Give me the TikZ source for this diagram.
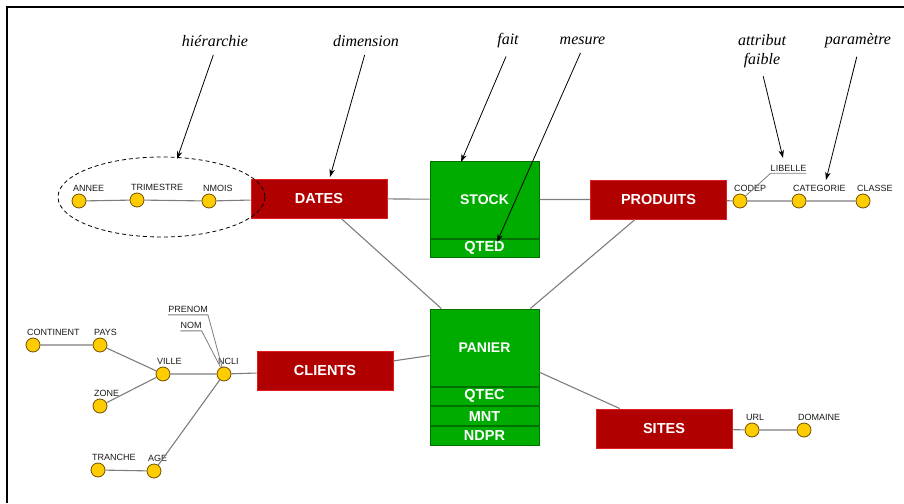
\documentclass[tikz,border=0pt]{standalone}
\usepackage{fontspec}
\setmainfont{Liberation Serif}
\setsansfont{Liberation Sans}
\usepackage{tikz}
\usetikzlibrary{arrows.meta,positioning}
\definecolor{dimred}{RGB}{176,0,0}
\definecolor{dimedge}{RGB}{226,28,28}
\definecolor{factgreen}{RGB}{0,172,0}
\definecolor{factedge}{RGB}{0,112,0}
\definecolor{attrfill}{RGB}{255,204,0}
\definecolor{attredge}{RGB}{110,80,0}
\definecolor{linkgray}{RGB}{125,125,125}
\definecolor{lblgray}{RGB}{25,25,25}

\begin{document}
\begin{tikzpicture}[x=1pt,y=-1pt,
    dim/.style={draw=dimedge,fill=dimred,line width=1pt,minimum width=136pt,minimum height=39pt,
      inner sep=0pt,text=white,font=\sffamily\bfseries\fontsize{14.5}{16}\selectfont},
    fact/.style={draw=factedge,fill=factgreen,line width=1pt,minimum width=109pt,minimum height=77pt,
      inner sep=0pt,text=white,font=\sffamily\bfseries\fontsize{14}{16}\selectfont},
    meas/.style={fact,minimum height=18.7pt,font=\sffamily\bfseries\fontsize{14.5}{16}\selectfont},
    attr/.style={circle,draw=attredge,fill=attrfill,line width=0.8pt,minimum size=14pt,inner sep=0pt},
    lbl/.style={font=\sffamily\fontsize{9}{10}\selectfont,text=lblgray,inner sep=0pt,
      anchor=south west,xshift=-6pt,yshift=2pt},
    weak/.style={font=\sffamily\fontsize{9}{10}\selectfont,text=lblgray,inner xsep=0pt,inner ysep=2pt},
    link/.style={draw=linkgray,line width=1.1pt},
    note/.style={font=\itshape\fontsize{16}{19}\selectfont,align=center},
    pointer/.style={-{Stealth[length=8pt,width=5.5pt]},line width=0.8pt,shorten <=5pt}]
    \useasboundingbox (0,0) rectangle (904,503);
    % cadre
    \draw[line width=1.5pt] (7,503) -- (7,7) -- (904,7);
    % faits et mesures
    \node[fact] (stock) at (484.5,199.5) {STOCK};
    \node[meas,below=0pt of stock] (qted) {QTED};
    \node[fact] (panier) at (484.5,347.5) {PANIER};
    \node[meas,below=0pt of panier] (qtec) {QTEC};
    \node[meas,below=0pt of qtec] (mnt) {MNT};
    \node[meas,below=0pt of mnt] (ndpr) {NDPR};
    % dimensions
    \node[dim] (dates) at (319,198.5) {DATES};
    \node[dim] (produits) at (658.5,199.5) {PRODUITS};
    \node[dim] (clients) at (325,371) {CLIENTS};
    \node[dim] (sites) at (664,428.5) {SITES};
    % parametres
    \node[attr,label={[lbl]90:ANNEE}] (annee) at (79,201) {};
    \node[attr,label={[lbl]90:TRIMESTRE}] (trimestre) at (137,200) {};
    \node[attr,label={[lbl]90:NMOIS}] (nmois) at (209,201) {};
    \node[attr,label={[lbl]90:CODEP}] (codep) at (740,201) {};
    \node[attr,label={[lbl]90:CATEGORIE}] (categorie) at (799,201) {};
    \node[attr,label={[lbl]90:CLASSE}] (classe) at (863,201) {};
    \node[attr,label={[lbl]90:CONTINENT}] (continent) at (33,345) {};
    \node[attr,label={[lbl]90:PAYS}] (pays) at (100,345) {};
    \node[attr,label={[lbl]90:VILLE}] (ville) at (163,374) {};
    \node[attr,label={[lbl]90:NCLI}] (ncli) at (224,374) {};
    \node[attr,label={[lbl]90:ZONE}] (zone) at (100,406) {};
    \node[attr,label={[lbl]90:TRANCHE}] (tranche) at (98,470) {};
    \node[attr,label={[lbl]90:AGE}] (age) at (154,471) {};
    \node[attr,label={[lbl]90:URL}] (url) at (752,430) {};
    \node[attr,label={[lbl]90:DOMAINE}] (domaine) at (804,430) {};
    % attributs faibles
    \node[weak] (libelle) at (788.5,168) {LIBELLE};
    \node[weak] (prenom) at (188,309.5) {PRENOM};
    \node[weak] (nom) at (191,325.5) {NOM};
    % liens
    \draw[link] (annee) -- (trimestre) -- (nmois) -- (dates) -- (stock) -- (produits) -- (codep)
      -- (categorie) -- (classe);
    \draw[link] (dates) -- (panier) -- (produits);
    \draw[link] (clients) -- (panier) -- (sites) -- (url) -- (domaine);
    \draw[link] (continent) -- (pays) -- (ville) -- (ncli) -- (clients);
    \draw[link] (zone) -- (ville);
    \draw[link] (tranche) -- (age) -- (ncli);
    \draw[link,line width=0.8pt] (codep) -- (libelle.south west) -- (libelle.south east);
    \draw[link,line width=0.8pt] (prenom.south west) -- (prenom.south east) -- (ncli);
    \draw[link,line width=0.8pt] (nom.south west) -- (nom.south east) -- (ncli);
    % hierarchie
    \draw[dash pattern=on 4pt off 3pt,line width=0.8pt] (161.5,197) ellipse (103.5 and 40);
    % annotations
    \node[note] (hierlbl) at (215,41) {hiérarchie};
    \node[note] (dimlbl) at (366,41) {dimension};
    \node[note] (faitlbl) at (508,41) {fait};
    \node[note] (meslbl) at (582.5,41) {mesure};
    \node[note] (attlbl) at (762,51) {attribut\\faible};
    \node[note] (paramlbl) at (858,41) {paramètre};
    \coordinate (hierpt) at (177,159);
    \coordinate (dimpt) at (330,177);
    \coordinate (faitpt) at (461,162);
    \coordinate (mespt) at (497,242);
    \coordinate (attpt) at (783,158);
    \coordinate (parampt) at (826,180);
    \draw[pointer] (hierlbl.south) -- (hierpt);
    \draw[pointer] (dimlbl.south) -- (dimpt);
    \draw[pointer] (faitlbl.south) -- (faitpt);
    \draw[pointer] (meslbl.south) -- (mespt);
    \draw[pointer] (attlbl.south) -- (attpt);
    \draw[pointer] (paramlbl.south) -- (parampt);
\end{tikzpicture}
\end{document}
